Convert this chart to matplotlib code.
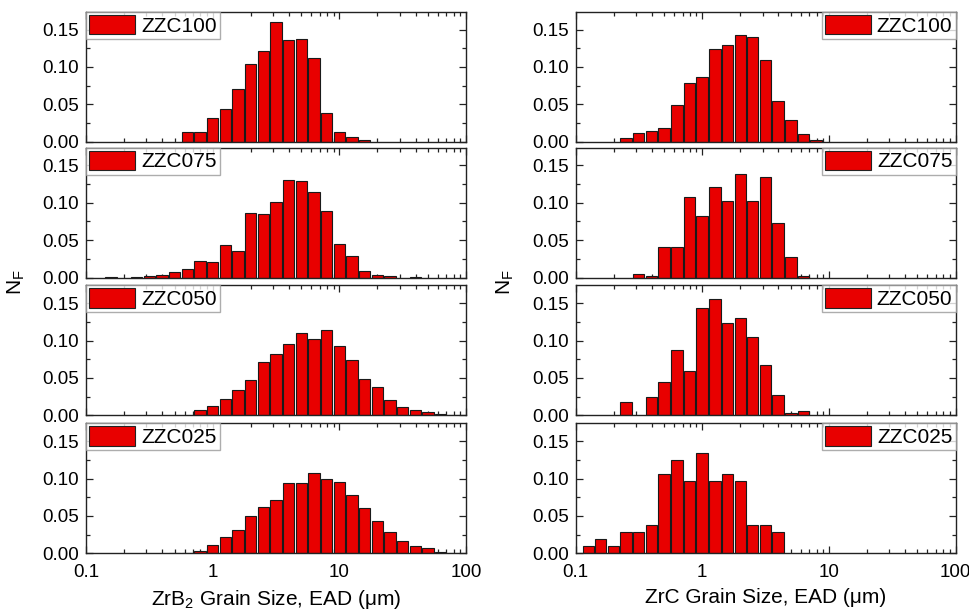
import numpy as np
import matplotlib
matplotlib.use("Agg")
import matplotlib.pyplot as plt
from matplotlib.patches import Patch
from matplotlib.ticker import LogLocator, MultipleLocator, NullFormatter, FixedLocator, FixedFormatter

plt.rcParams['font.family'] = ['Liberation Sans', 'DejaVu Sans']
plt.rcParams['mathtext.fontset'] = 'custom'
plt.rcParams['mathtext.rm'] = 'Liberation Sans'
plt.rcParams['mathtext.it'] = 'Liberation Sans:italic'
plt.rcParams['mathtext.bf'] = 'Liberation Sans:bold'

# bin centres (grain size, um), 10 bins per decade
grain_size = [0.126, 0.158, 0.2, 0.251, 0.316, 0.398, 0.501, 0.631, 0.794,
              1.0, 1.26, 1.58, 2.0, 2.51, 3.16, 3.98, 5.01, 6.31, 7.94,
              10.0, 12.6, 15.8, 20.0, 25.1, 31.6, 39.8, 50.1, 63.1, 79.4]

labels = ["ZZC100", "ZZC075", "ZZC050", "ZZC025"]

zrb2_zzc100 = [0, 0, 0, 0, 0, 0, 0,
               0.0134, 0.0134, 0.032, 0.0436, 0.070, 0.1037, 0.1215, 0.160,
               0.136, 0.1375, 0.1117, 0.038, 0.0134, 0.0058, 0.002,
               0, 0, 0, 0, 0, 0, 0]
zrb2_zzc075 = [0, 0.0005, 0, 0.001, 0.002, 0.004, 0.0072, 0.0117, 0.0216,
               0.0202, 0.0436, 0.035, 0.0867, 0.0844, 0.101, 0.130, 0.129,
               0.1145, 0.0885, 0.045, 0.029, 0.0081, 0.0027, 0.002, 0, 0.0003,
               0, 0, 0]
zrb2_zzc050 = [0, 0, 0, 0, 0, 0, 0, 0,
               0.0067, 0.0125, 0.0215, 0.034, 0.0475, 0.0707, 0.082, 0.0954,
               0.110, 0.1016, 0.114, 0.0927, 0.0734, 0.049, 0.038, 0.020,
               0.011, 0.0076, 0.0045, 0.0018, 0.0009]
zrb2_zzc025 = [0, 0, 0, 0, 0, 0,
               0.0003, 0.0005, 0.0027, 0.0116, 0.0214, 0.031, 0.0496, 0.0625,
               0.071, 0.094, 0.094, 0.107, 0.099, 0.0955, 0.0777, 0.0607,
               0.0433, 0.0286, 0.016, 0.0094, 0.0067, 0.0022, 0.0009]

zrc_zzc100 = [0, 0, 0,
              0.0049, 0.012, 0.0142, 0.0182, 0.0485, 0.0783, 0.0864, 0.124,
              0.130, 0.1424, 0.140, 0.110, 0.0543, 0.0285, 0.0102, 0.0027,
              0, 0, 0, 0, 0, 0, 0, 0, 0, 0]
zrc_zzc075 = [0, 0, 0, 0,
              0.0045, 0.0018, 0.0404, 0.0404, 0.108, 0.082, 0.1217, 0.102,
              0.138, 0.102, 0.1347, 0.0723, 0.027, 0.0018,
              0, 0, 0, 0, 0, 0, 0, 0, 0, 0, 0]
zrc_zzc050 = [0, 0, 0,
              0.0175, 0, 0.0246, 0.0452, 0.0878, 0.0596, 0.1437, 0.155, 0.123,
              0.130, 0.105, 0.0667, 0.0273, 0.003, 0.0063,
              0, 0, 0, 0, 0, 0, 0, 0, 0, 0, 0]
zrc_zzc025 = [0.0096, 0.0192, 0.0096, 0.0288, 0.0288, 0.0385, 0.1058, 0.125,
              0.0962, 0.1346, 0.0962, 0.1058, 0.0962, 0.0385, 0.0385, 0.0288,
              0, 0, 0, 0, 0, 0, 0, 0, 0, 0, 0, 0, 0]

columns = [
    ([zrb2_zzc100, zrb2_zzc075, zrb2_zzc050, zrb2_zzc025],
     r"ZrB$_\mathregular{2}$ Grain Size, EAD (μm)", "upper left"),
    ([zrc_zzc100, zrc_zzc075, zrc_zzc050, zrc_zzc025],
     "ZrC Grain Size, EAD (μm)", "upper right"),
]

W, H = 969, 611
fig = plt.figure(figsize=(W / 100, H / 100), dpi=100)

bar_color = "#E80000"
col_left_px = [86, 575.5]
ax_w_px = 380
row_top_px = [11.7, 147.5, 285.3, 423.3]
ax_h_px = 130

centers = np.array(grain_size)
half = 0.045  # half bar width in decades
lefts = centers * 10 ** (-half)
widths = centers * 10 ** (half) - lefts

for ci, (series, xlabel, legloc) in enumerate(columns):
    for ri, vals in enumerate(series):
        l = col_left_px[ci] / W
        b = 1 - (row_top_px[ri] + ax_h_px) / H
        ax = fig.add_axes([l, b, ax_w_px / W, ax_h_px / H])
        v = np.array(vals, dtype=float)
        m = v > 0
        ax.bar(lefts[m], v[m], width=widths[m], align='edge',
               color=bar_color, edgecolor='#1a1a1a', linewidth=0.8, zorder=2)
        ax.set_xscale('log')
        ax.set_xlim(0.1, 100)
        ax.set_ylim(0, 0.174)
        ax.yaxis.set_major_locator(FixedLocator([0, 0.05, 0.10, 0.15]))
        ax.yaxis.set_major_formatter(FixedFormatter(["0.00", "0.05", "0.10", "0.15"]))
        ax.yaxis.set_minor_locator(MultipleLocator(0.025))
        ax.xaxis.set_major_locator(FixedLocator([0.1, 1, 10, 100]))
        ax.xaxis.set_minor_locator(LogLocator(base=10, subs=np.arange(2, 10)))
        ax.xaxis.set_minor_formatter(NullFormatter())
        ax.tick_params(which='both', direction='in', top=True, right=True,
                       width=0.9, color='#222222')
        ax.tick_params(which='major', length=5)
        ax.tick_params(which='minor', length=3)
        ax.tick_params(axis='y', labelsize=13.5, pad=5)
        ax.tick_params(axis='x', labelsize=13.5, pad=8)
        if ri < 3:
            ax.set_xticklabels([])
        else:
            ax.xaxis.set_major_formatter(FixedFormatter(["0.1", "1", "10", "100"]))
            ax.set_xlabel(xlabel, fontsize=15, labelpad=5)
        for s in ax.spines.values():
            s.set_linewidth(1.0)
            s.set_color('#222222')
        handle = Patch(facecolor=bar_color, edgecolor='#222222', linewidth=0.8)
        leg = ax.legend([handle], [labels[ri]], loc=legloc, fontsize=15,
                        frameon=True, fancybox=False, borderaxespad=0.0,
                        borderpad=0.15, handlelength=2.2, handleheight=1.05,
                        handletextpad=0.3)
        leg.get_frame().set_edgecolor('#999999')
        leg.get_frame().set_linewidth(1.0)
    xlab = (col_left_px[ci] - 70) / W
    fig.text(xlab, 1 - 282.5 / H, r"N$_\mathregular{F}$", rotation=90,
             fontsize=15, ha='center', va='center')

fig.savefig("out.png", dpi=100)
